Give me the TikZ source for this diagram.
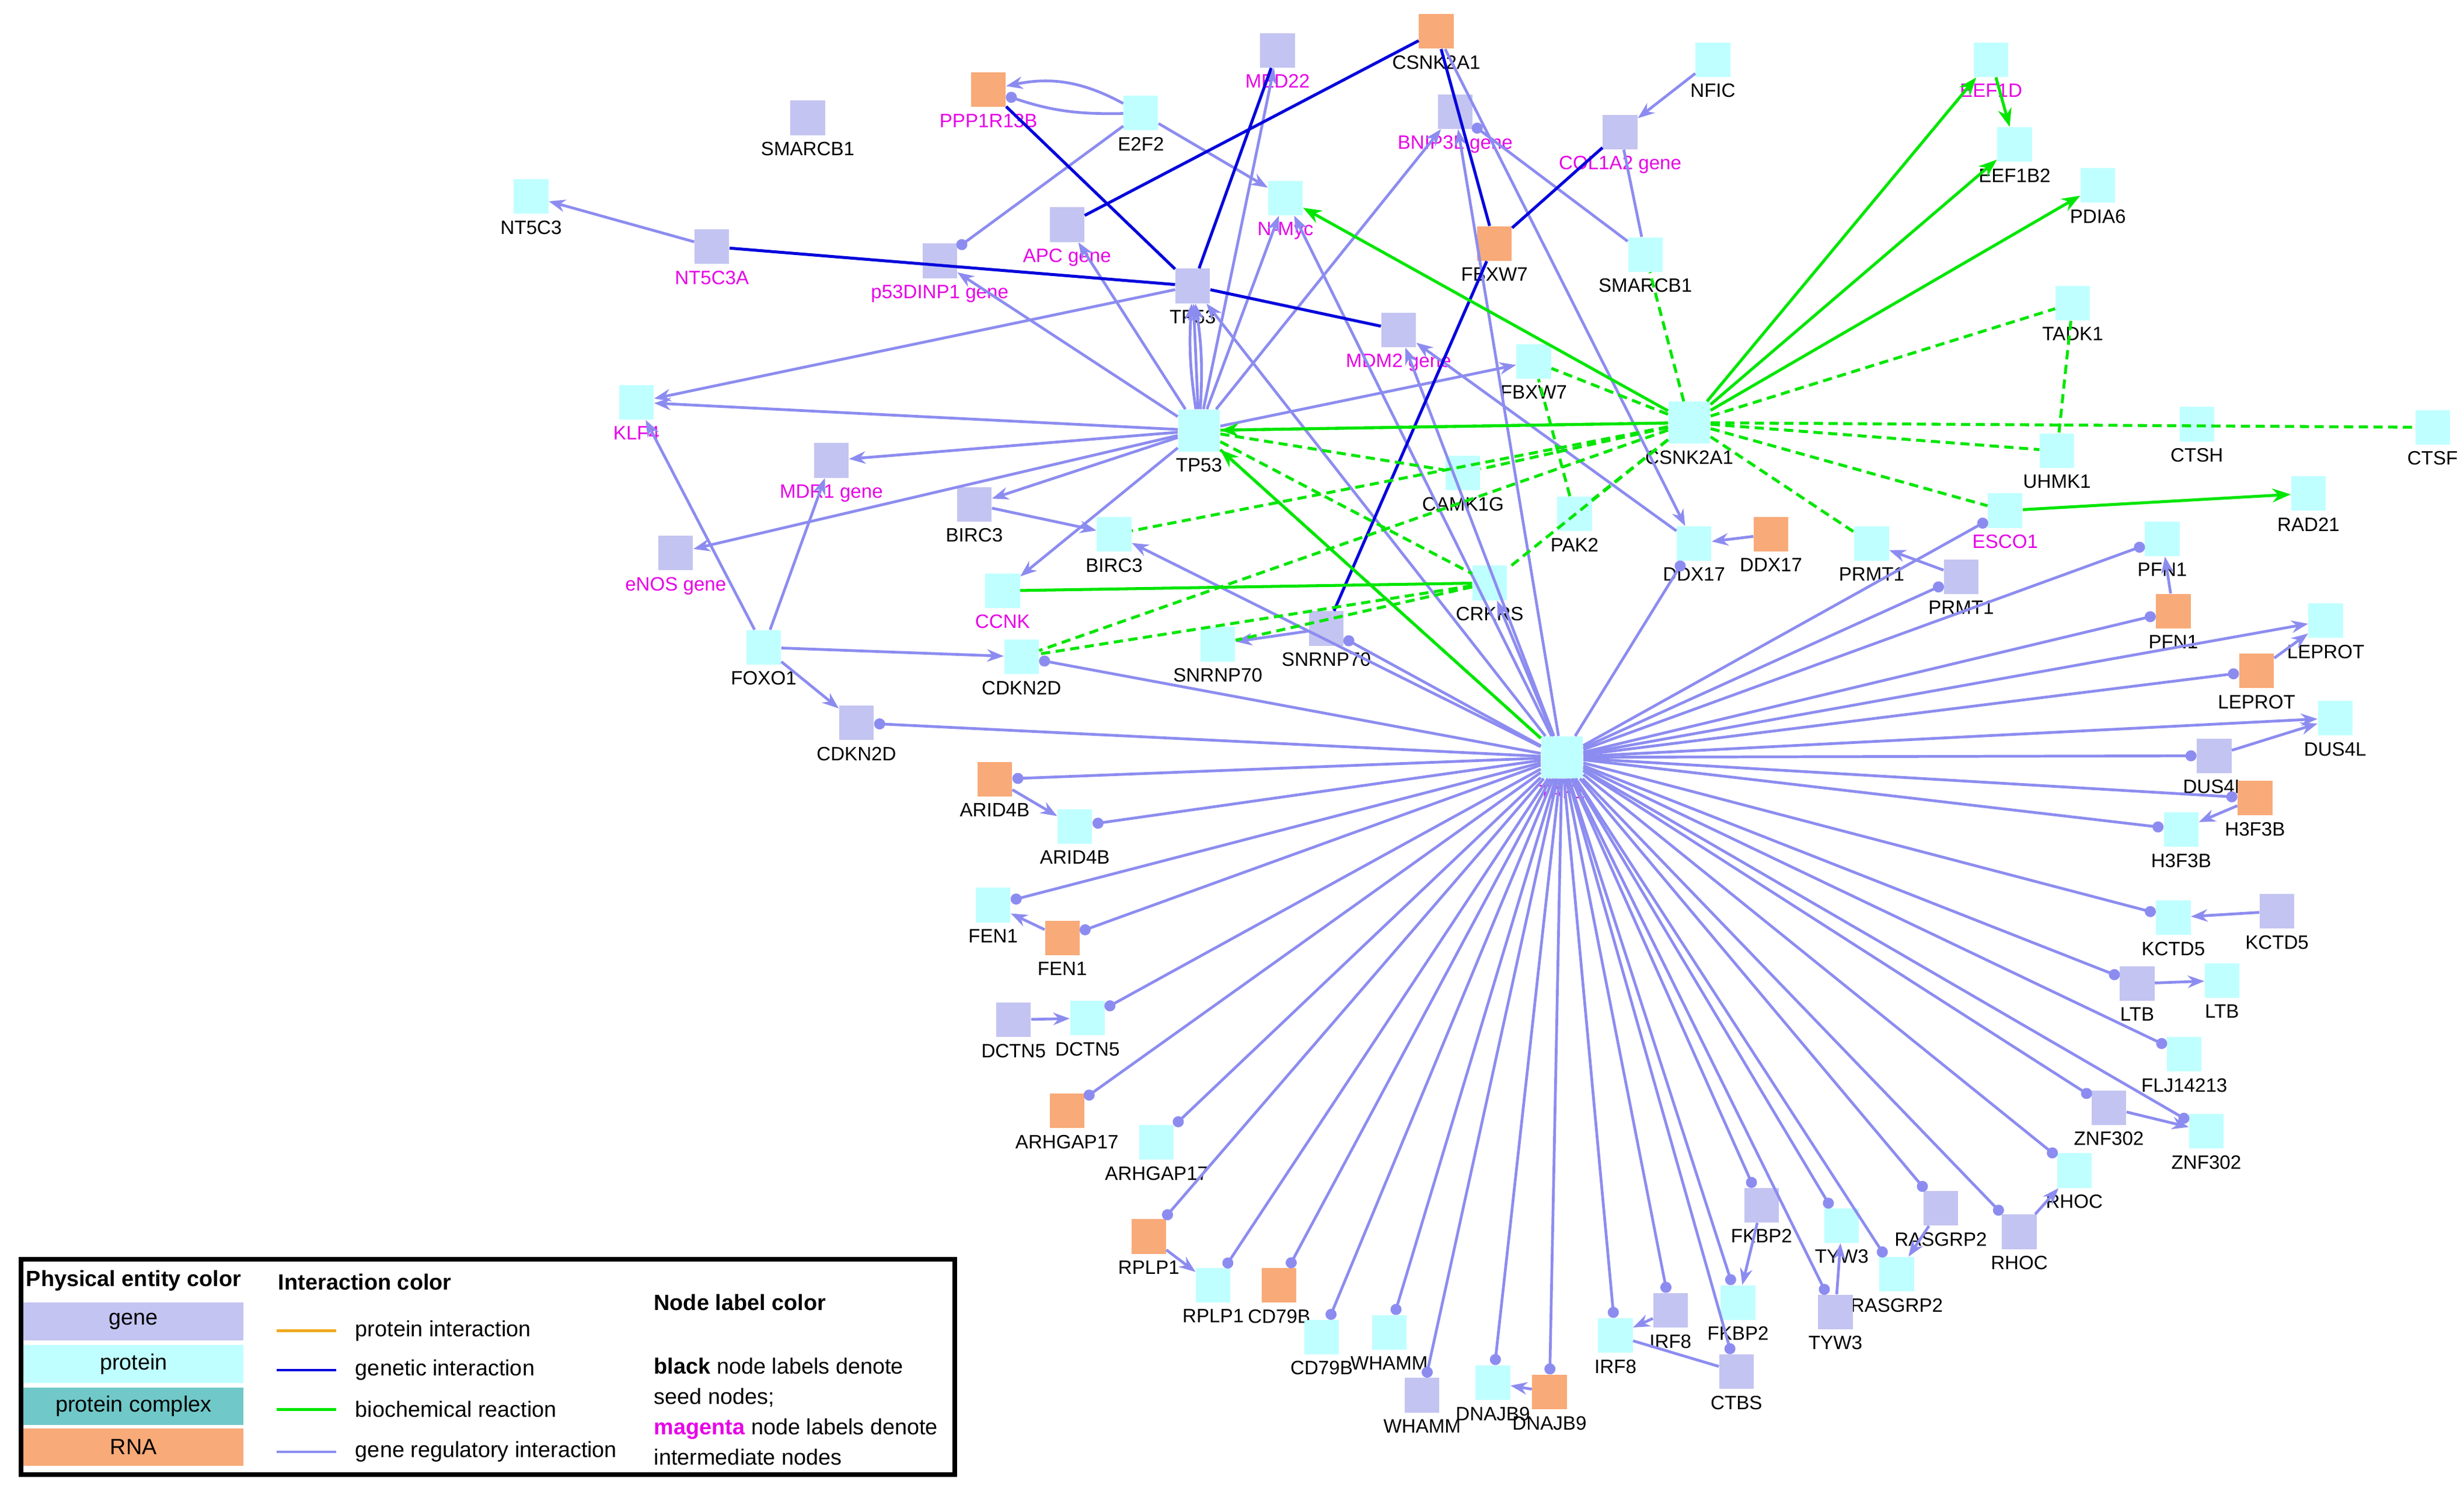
\documentclass[tikz,border=0pt]{standalone}
\usepackage{fontspec}
\setmainfont{Liberation Sans}
\usetikzlibrary{arrows.meta}
\definecolor{genec}{RGB}{196,196,242}
\definecolor{protc}{RGB}{192,255,255}
\definecolor{cplxc}{RGB}{112,200,200}
\definecolor{rnac}{RGB}{248,170,120}
\definecolor{regc}{RGB}{140,140,240}
\definecolor{genc}{RGB}{0,0,220}
\definecolor{bioc}{RGB}{0,230,0}
\definecolor{ppic}{RGB}{240,170,30}
\definecolor{mgc}{RGB}{230,0,230}
\tikzset{>=Stealth}

\begin{document}
\begin{tikzpicture}[x=0.03cm,y=-0.03cm,
ent/.style={rectangle, minimum size=0.66cm, inner sep=0pt, font=\fontsize{10.5}{12}\selectfont, label distance=-1pt},
gene/.style={ent, fill=genec},
prot/.style={ent, fill=protc},
rna/.style={ent, fill=rnac},
big/.style={minimum size=0.8cm},
reg/.style={draw=regc, line width=1.5pt, -{Stealth[length=9pt]}},
regd/.style={draw=regc, line width=1.5pt, -{Circle[length=6pt]}},
gnt/.style={draw=genc, line width=1.6pt},
bio/.style={draw=bioc, line width=1.6pt, -{Stealth[length=10pt]}},
biod/.style={draw=bioc, line width=1.6pt, dash pattern=on 5pt off 3pt},
lgfont/.style={font=\fontsize{12}{14}\selectfont},
]
\useasboundingbox (0,0) rectangle (1568,947);
\tikzset{every label/.style={font=\fontsize{10.5}{12}\selectfont}}
%Nodes
\node[gene, label=below:SMARCB1] (smarcbG) at (514,75) {};
\node[rna, label={[mgc]below:PPP1R13B}] (pppR) at (629,57) {};
\node[prot, label=below:E2F2] (e2fP) at (726,72) {};
\node[gene, label={[mgc]below:MED22}] (medG) at (813,32) {};
\node[rna, label=below:CSNK2A1] (csnkR) at (914,20) {};
\node[prot, label=below:NFIC] (nficP) at (1090,38) {};
\node[prot, label={[mgc]below:EEF1D}] (eefdP) at (1267,38) {};
\node[gene, label={[mgc]below:BNIP3L gene}] (bnipG) at (926,71) {};
\node[gene, label={[mgc]below:COL1A2 gene}] (colG) at (1031,84) {};
\node[prot, label=below:EEF1B2] (eefbP) at (1282,92) {};
\node[prot, label=below:PDIA6] (pdiaP) at (1335,118) {};
\node[prot, label=below:NT5C3] (ntP) at (338,125) {};
\node[gene, label={[mgc]below:NT5C3A}] (ntaG) at (453,157) {};
\node[gene, label={[mgc]below:APC gene}] (apcG) at (679,143) {};
\node[prot, label={[mgc]below:N-Myc}] (nmycP) at (818,126) {};
\node[gene, label={[mgc]below:p53DINP1 gene}] (p53dG) at (598,166) {};
\node[gene, label=below:TP53] (tpG) at (759,182) {};
\node[rna, label=below:FBXW7] (fbxR) at (951,155) {};
\node[prot, label=below:SMARCB1] (smarcbP) at (1047,162) {};
\node[gene, label={[mgc]below:MDM2 gene}] (mdmG) at (890,210) {};
\node[prot, label=below:TADK1] (tadkP) at (1319,193) {};
\node[prot, label=below:FBXW7] (fbxP) at (976,230) {};
\node[prot, label={[mgc]below:KLF4}] (klfP) at (405,256) {};
\node[prot, big, label=below:TP53] (tpP) at (763,274) {};
\node[prot, big, label=below:CSNK2A1] (csnkP) at (1075,269) {};
\node[prot, label=below:UHMK1] (uhmkP) at (1309,287) {};
\node[prot, label=below:CTSH] (ctshP) at (1398,270) {};
\node[prot, label=below:CTSF] (ctsfP) at (1548,272) {};
\node[gene, label={[mgc]below:MDR1 gene}] (mdrG) at (529,293) {};
\node[prot, label=below:CAMK1G] (camkP) at (931,301) {};
\node[prot, label=below:RAD21] (radP) at (1469,314) {};
\node[gene, label=below:BIRC3] (bircG) at (620,321) {};
\node[prot, label=below:BIRC3] (bircP) at (709,340) {};
\node[prot, label=below:PAK2] (pakP) at (1002,327) {};
\node[prot, label={[mgc]below:ESCO1}] (escoP) at (1276,325) {};
\node[prot, label=below:PFN1] (pfnP) at (1376,343) {};
\node[gene, label={[mgc]below:eNOS gene}] (enosG) at (430,352) {};
\node[prot, label=below:DDX17] (ddxP) at (1078,346) {};
\node[rna, label=below:DDX17] (ddxR) at (1127,340) {};
\node[prot, label=below:PRMT1] (prmtP) at (1191,346) {};
\node[gene, label=below:PRMT1] (prmtG) at (1248,367) {};
\node[prot, label={[mgc]below:CCNK}] (ccnkP) at (638,376) {};
\node[prot, label=below:CRKRS] (crkP) at (948,371) {};
\node[rna, label=below:PFN1] (pfnR) at (1383,389) {};
\node[prot, label=below:LEPROT] (lepP) at (1480,395) {};
\node[prot, label=below:FOXO1] (foxP) at (486,412) {};
\node[prot, label=below:CDKN2D] (cdkP) at (650,418) {};
\node[prot, label=below:SNRNP70] (snrP) at (775,410) {};
\node[gene, label=below:SNRNP70] (snrG) at (844,400) {};
\node[rna, label=below:LEPROT] (lepR) at (1436,427) {};
\node[prot, label=below:DUS4L] (dusP) at (1486,457) {};
\node[gene, label=below:CDKN2D] (cdkG) at (545,460) {};
\node[prot, big, label={[mgc]below:TAF1}] (tafP) at (994,482) {};
\node[gene, label=below:DUS4L] (dusG) at (1409,481) {};
\node[rna, label=below:ARID4B] (aridR) at (633,496) {};
\node[rna, label=below:H3F3B] (h3R) at (1435,508) {};
\node[prot, label=below:ARID4B] (aridP) at (684,526) {};
\node[prot, label=below:H3F3B] (h3P) at (1388,528) {};
\node[prot, label=below:FEN1] (fenP) at (632,576) {};
\node[gene, label=below:KCTD5] (kctG) at (1449,580) {};
\node[prot, label=below:KCTD5] (kctP) at (1383,584) {};
\node[rna, label=below:FEN1] (fenR) at (676,597) {};
\node[gene, label=below:LTB] (ltbG) at (1360,626) {};
\node[prot, label=below:LTB] (ltbP) at (1414,624) {};
\node[gene, label=below:DCTN5] (dctG) at (645,649) {};
\node[prot, label=below:DCTN5] (dctP) at (692,648) {};
\node[prot, label=below:FLJ14213] (fljP) at (1390,671) {};
\node[rna, label=below:ARHGAP17] (arhR) at (679,707) {};
\node[gene, label=below:ZNF302] (znfG) at (1342,705) {};
\node[prot, label=below:ZNF302] (znfP) at (1404,720) {};
\node[prot, label=below:ARHGAP17] (arhP) at (736,727) {};
\node[prot, label=below:RHOC] (rhocP) at (1320,745) {};
\node[gene, label=below:FKBP2] (fkbG) at (1121,767) {};
\node[gene, label=below:RASGRP2] (rasG) at (1235,769) {};
\node[prot, label=below:TYW3] (tywP) at (1172,780) {};
\node[gene, label=below:RHOC] (rhocG) at (1285,784) {};
\node[rna, label=below:RPLP1] (rplR) at (731,787) {};
\node[prot, label=below:RASGRP2] (rasP) at (1207,811) {};
\node[prot, label=below:RPLP1] (rplP) at (772,818) {};
\node[rna, label=below:CD79B] (cdR) at (814,818) {};
\node[prot, label=below:FKBP2] (fkbP) at (1106,829) {};
\node[gene, label=below:IRF8] (irfG) at (1063,834) {};
\node[gene, label=below:TYW3] (tywG) at (1168,835) {};
\node[prot, label=below:WHAMM] (whP) at (884,848) {};
\node[prot, label=below:CD79B] (cdP) at (841,851) {};
\node[prot, label=below:IRF8] (irfP) at (1028,850) {};
\node[gene, label=below:CTBS] (ctbG) at (1105,873) {};
\node[prot, label=below:DNAJB9] (dnP) at (950,880) {};
\node[rna, label=below:DNAJB9] (dnR) at (986,886) {};
\node[gene, label=below:WHAMM] (whG) at (905,888) {};

%Lines
\foreach \t in {aridR,aridP,fenP,fenR,dctP,arhR,arhP,rplR,rplP,cdR,cdP,whP,whG,dnP,dnR,irfP,irfG,ctbG,fkbG,fkbP,tywP,tywG,rasG,rasP,rhocG,rhocP,znfG,znfP,fljP,ltbG,kctP,h3P,h3R,dusG,lepR,pfnR,pfnP,prmtG,escoP,ddxP,cdkP,cdkG,snrG}
  \draw[regd] (tafP) -- (\t);
\draw[reg] (tafP) -- (dusP);
\draw[reg] (tafP) -- (lepP);
\foreach \t in {tpG,nmycP,mdmG,bnipG,crkP,bircP}
  \draw[reg] (tafP) -- (\t);
\foreach \t in {tpG,apcG,p53dG,nmycP,medG,bnipG,fbxP,ccnkP,bircG,enosG,klfP}
  \draw[reg] (tpP) -- (\t);
\draw[reg] (tpP) to[bend left=6] (tpG);
\draw[reg] (tpP) to[bend right=6] (tpG);
\draw[reg] (tpP) -- (mdrG);
\draw[reg] (tpG) -- (klfP);
\draw[reg] (e2fP) to[bend right=20] (pppR);
\draw[regd] (e2fP) to[bend left=10] (pppR);
\draw[reg] (e2fP) -- (nmycP);
\draw[regd] (e2fP) -- (p53dG);
\draw[regd] (smarcbP) -- (bnipG);
\draw[reg] (csnkR) -- (ddxP);
\draw[reg] (nficP) -- (colG);
\draw[draw=regc, line width=1.5pt] (colG) -- (smarcbP);
\draw[reg] (ntaG) -- (ntP);
\draw[reg] (foxP) -- (klfP);
\draw[reg] (foxP) -- (mdrG);
\draw[reg] (foxP) -- (cdkP);
\draw[reg] (foxP) -- (cdkG);
\draw[reg] (bircG) -- (bircP);
\draw[reg] (ddxR) -- (ddxP);
\draw[reg] (prmtG) -- (prmtP);
\draw[reg] (pfnR) -- (pfnP);
\draw[reg] (lepR) -- (lepP);
\draw[reg] (dusG) -- (dusP);
\draw[reg] (h3R) -- (h3P);
\draw[reg] (kctG) -- (kctP);
\draw[reg] (ltbG) -- (ltbP);
\draw[reg] (fenR) -- (fenP);
\draw[reg] (dctG) -- (dctP);
\draw[reg] (aridR) -- (aridP);
\draw[reg] (rplR) -- (rplP);
\draw[reg] (dnR) -- (dnP);
\draw[reg] (irfG) -- (irfP);
\draw[reg] (fkbG) -- (fkbP);
\draw[reg] (tywG) -- (tywP);
\draw[reg] (rasG) -- (rasP);
\draw[reg] (rhocG) -- (rhocP);
\draw[reg] (znfG) -- (znfP);
\draw[reg] (snrG) -- (snrP);
\draw[reg] (ddxP) -- (mdmG);
\draw[draw=regc, line width=1.5pt] (ctbG) -- (irfP);
%genetic
\draw[gnt] (pppR) -- (tpG);
\draw[gnt] (csnkR) -- (apcG);
\draw[gnt] (medG) -- (tpG);
\draw[gnt] (csnkR) -- (fbxR);
\draw[gnt] (fbxR) -- (colG);
\draw[gnt] (ntaG) -- (tpG);
\draw[gnt] (tpG) -- (mdmG);
\draw[gnt] (snrG) -- (fbxR);
%biochemical
\foreach \t in {eefdP,eefbP,pdiaP,tpP,nmycP}
  \draw[bio] (csnkP) -- (\t);
\draw[bio] (eefdP) -- (eefbP);
\draw[bio] (escoP) -- (radP);
\draw[bio] (tafP) -- (tpP);
\draw[draw=bioc, line width=1.6pt] (crkP) -- (ccnkP);
\foreach \t in {fbxP,smarcbP,tadkP,uhmkP,ctsfP,camkP,bircP,pakP,crkP,cdkP,prmtP,escoP,tpP}
  \draw[biod] (csnkP) -- (\t);
\draw[biod] (tadkP) -- (uhmkP);
\draw[biod] (tpP) -- (camkP);
\draw[biod] (tpP) -- (crkP);
\draw[biod] (tpP) -- (tafP);
\draw[biod] (pakP) -- (fbxP);
\draw[biod] (crkP) -- (cdkP);
\draw[biod] (crkP) -- (snrP);

%Legend
\node[draw=black, line width=2.5pt, minimum width=17.82cm, minimum height=4.11cm, anchor=north west] (legend) at (12,800) {};
\node[lgfont, font=\bfseries\fontsize{12}{14}\selectfont] (legA) at (85,815) {Physical entity color};
\node[lgfont, fill=genec, minimum width=4.2cm, minimum height=0.72cm] (lgGene) at (85,841) {gene};
\node[lgfont, fill=protc, minimum width=4.2cm, minimum height=0.72cm] (lgProt) at (85,868) {protein};
\node[lgfont, fill=cplxc, minimum width=4.2cm, minimum height=0.72cm] (lgCplx) at (85,895) {protein complex};
\node[lgfont, fill=rnac, minimum width=4.2cm, minimum height=0.72cm] (lgRna) at (85,921) {RNA};
\node[font=\bfseries\fontsize{12}{14}\selectfont, anchor=west] (legB) at (173,816) {Interaction color};
\foreach \y/\c/\s in {847/ppic/protein interaction, 872/genc/genetic interaction, 897/bioc/biochemical reaction, 924/regc/gene regulatory interaction}{
  \coordinate (la\y) at (176,\y);
  \coordinate (lb\y) at (214,\y);
  \draw[\c, line width=1.5pt] (la\y) -- (lb\y);
  \node[lgfont, anchor=west] (lt\y) at (222,\y) {\s};
}
\node[font=\bfseries\fontsize{12}{14}\selectfont, anchor=west] (legC) at (412,829) {Node label color};
\node[anchor=north west, align=left, inner sep=0pt, font=\fontsize{12}{16.5}\selectfont] (legD) at (416,864)
  {\textbf{black} node labels denote\\ seed nodes;\\ \textcolor{mgc}{\textbf{magenta}} node labels denote\\ intermediate nodes};
\end{tikzpicture}
\end{document}
